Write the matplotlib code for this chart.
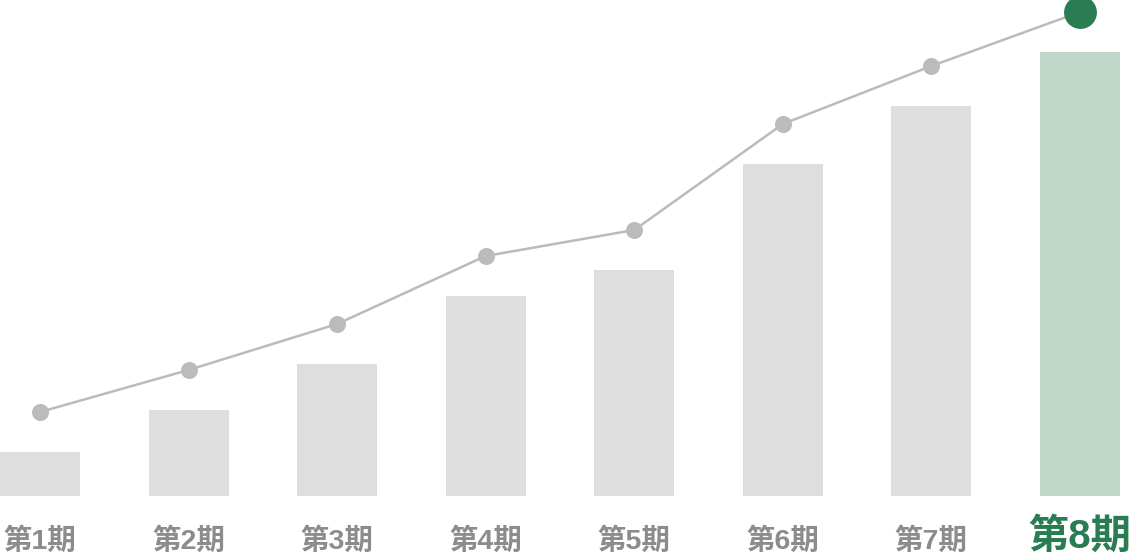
import matplotlib
matplotlib.use("Agg")
import matplotlib.pyplot as plt
import numpy as np

plt.rcParams['font.family'] = ['Noto Sans CJK JP', 'DejaVu Sans']

periods = ['第1期', '第2期', '第3期', '第4期', '第5期', '第6期', '第7期', '第8期']
bar_values = [44, 86, 132, 200, 226, 332, 390, 444]
line_values = [84, 126, 172, 240, 266, 372, 430, 484]

gray_bar = '#dedede'
green_bar = '#bfd8ca'
green = '#2a7d52'
line_gray = '#bbbbbb'
label_gray = '#8c8c8c'

fig = plt.figure(figsize=(11.36, 5.56), dpi=100)
ax = fig.add_axes([0, 60 / 556, 1, 496 / 556])

x = np.arange(len(periods))
colors = [gray_bar] * (len(periods) - 1) + [green_bar]
ax.bar(x, bar_values, width=0.538, color=colors, zorder=1)

ax.plot(x, line_values, color=line_gray, lw=1.8, zorder=2)
ax.scatter(x[:-1], line_values[:-1], s=150, color=line_gray, zorder=3, linewidths=0)
ax.scatter(x[-1:], line_values[-1:], s=560, color=green, zorder=3, linewidths=0)

ax.set_xlim(-0.269, 7.377)
ax.set_ylim(0, 496)
ax.set_yticks([])
ax.set_xticks([])

# labels under the bars, last one big and green
fam = ['Liberation Sans', 'Noto Sans CJK JP']
trans = ax.get_xaxis_transform()
for i, p in enumerate(periods):
    if i == len(periods) - 1:
        ax.text(x[i], -0.082, p, transform=trans, ha='center', va='center',
                fontsize=29, fontweight='bold', color=green, family=fam)
    else:
        ax.text(x[i], -0.09, p, transform=trans, ha='center', va='center',
                fontsize=20.5, fontweight='bold', color=label_gray, family=fam)

for s in ax.spines.values():
    s.set_visible(False)
ax.patch.set_alpha(0)
for c in ax.collections:
    c.set_clip_on(False)

fig.savefig('out.png', dpi=100)
